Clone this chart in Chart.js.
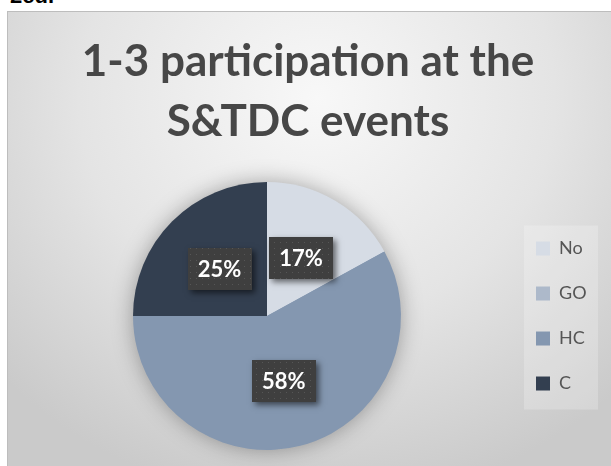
<!DOCTYPE html>
<html>
<head>
<meta charset="utf-8">
<script src="https://cdn.jsdelivr.net/npm/chart.js@4.4.0/dist/chart.umd.min.js"></script>
<style>
  html, body { margin: 0; padding: 0; background: #ffffff; width: 611px; height: 466px; overflow: hidden; }
  #cut { position: absolute; left: 10px; top: -17px; font: bold 22px "Liberation Sans", Arial, sans-serif; color: #000; }
  #box {
    position: absolute; left: 7px; top: 11px; width: 620px; height: 480px;
    border: 1px solid #bdbdbd; box-sizing: border-box; overflow: hidden;
    background: radial-gradient(ellipse 70% 85% at 50% 18%, #f8f8f8 0%, #e4e4e4 55%, #cacaca 100%);
  }
  canvas { position: absolute; left: 0; top: 0; }
</style>
</head>
<body>
<div id="cut">2ed.</div>
<div id="box"><canvas id="c" width="603" height="480"></canvas></div>
<script>
const categories = ['No', 'GO', 'HC', 'C'];
const values = [17, 0, 58, 25];
const sliceColors = ['#d6dce5', '#adb9ca', '#8497b0', '#333f50'];
const titleLines = ['1-3 participation at the', 'S&TDC events'];

const pat = document.createElement('canvas');
pat.width = 6; pat.height = 6;
(function () {
  const p = pat.getContext('2d');
  p.fillStyle = '#3f3f3f'; p.fillRect(0, 0, 6, 6);
  p.fillStyle = '#565656'; p.fillRect(2, 2, 1, 1);
})();

const pieShadow = {
  id: 'pieShadow',
  beforeDatasetsDraw(chart) {
    const arc = chart.getDatasetMeta(0).data[0];
    if (!arc) return;
    const ctx = chart.ctx;
    ctx.save();
    ctx.shadowColor = 'rgba(0,0,0,0.35)';
    ctx.shadowBlur = 22;
    ctx.fillStyle = '#8497b0';
    ctx.beginPath();
    ctx.arc(arc.x, arc.y, arc.outerRadius - 1, 0, Math.PI * 2);
    ctx.fill();
    ctx.restore();
  }
};

const legendPanel = {
  id: 'legendPanel',
  beforeDraw(chart) {
    const hb = chart.legend && chart.legend.legendHitBoxes;
    if (!hb || !hb.length) return;
    const first = hb[0], last = hb[hb.length - 1];
    const ctx = chart.ctx;
    ctx.save();
    ctx.fillStyle = 'rgba(255,255,255,0.22)';
    const x = first.left - 12, y = first.top - 14;
    ctx.fillRect(x, y, 74, (last.top + 35) - y);
    ctx.restore();
  }
};

const dataLabels = {
  id: 'dataLabels',
  afterDatasetsDraw(chart) {
    const ctx = chart.ctx;
    const ds = chart.data.datasets[0].data;
    const total = ds.reduce((a, b) => a + b, 0);
    chart.getDatasetMeta(0).data.forEach((arc, i) => {
      if (!ds[i]) return;
      const pos = arc.tooltipPosition();
      const w = 64, h = 42;
      const x = Math.round(pos.x - w / 2), y = Math.round(pos.y - h / 2);
      ctx.save();
      ctx.shadowColor = 'rgba(0,0,0,0.55)';
      ctx.shadowBlur = 6;
      ctx.shadowOffsetX = 3;
      ctx.shadowOffsetY = 3;
      ctx.fillStyle = '#3f3f3f';
      ctx.fillRect(x, y, w, h);
      ctx.restore();
      ctx.save();
      ctx.fillStyle = ctx.createPattern(pat, 'repeat');
      ctx.fillRect(x, y, w, h);
      ctx.fillStyle = '#ffffff';
      ctx.font = 'bold 22px Lato, "Open Sans", sans-serif';
      ctx.textAlign = 'center';
      ctx.textBaseline = 'middle';
      ctx.fillText(Math.round(ds[i] / total * 100) + '%', pos.x, pos.y + 1);
      ctx.restore();
    });
  }
};

new Chart(document.getElementById('c'), {
  type: 'pie',
  data: {
    labels: categories,
    datasets: [{
      data: values,
      backgroundColor: sliceColors,
      borderWidth: 0
    }]
  },
  options: {
    responsive: false,
    animation: false,
    radius: 134,
    layout: { padding: { left: 17, right: 20, top: 0, bottom: 12 } },
    plugins: {
      tooltip: { enabled: false },
      title: {
        display: true,
        text: titleLines,
        color: '#474747',
        font: { family: 'Lato, "Open Sans", sans-serif', size: 44, weight: 'bold', lineHeight: 1.364 },
        padding: { top: 20, bottom: 0 }
      },
      legend: {
        display: true,
        position: 'right',
        fullSize: false,
        maxWidth: 82,
        labels: {
          boxWidth: 14,
          boxHeight: 14,
          padding: 27,
          color: '#555555',
          font: { family: 'Lato, "Open Sans", sans-serif', size: 18 }
        }
      }
    }
  },
  plugins: [pieShadow, legendPanel, dataLabels]
});
</script>
</body>
</html>
